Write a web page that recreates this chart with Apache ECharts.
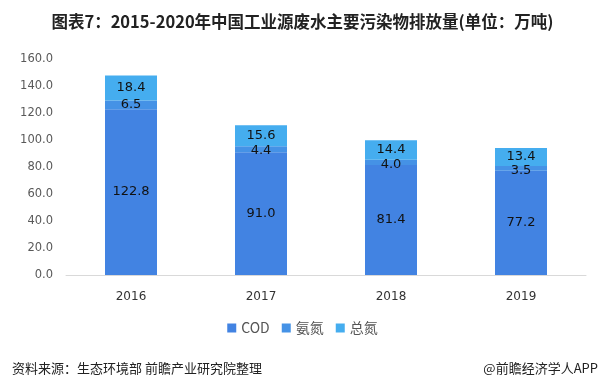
<!DOCTYPE html>
<html><head><meta charset="utf-8">
<script src="https://cdn.jsdelivr.net/npm/echarts@6/dist/echarts.min.js"></script>
<style>html,body{margin:0;padding:0;background:#fff}#c{width:605px;height:388px}</style>
</head><body><div id="c"></div>
<script>
const categories = ['2016','2017','2018','2019'];
const cod = [122.8, 91.0, 81.4, 77.2];
const nh3n = [6.5, 4.4, 4.0, 3.5];
const tn = [18.4, 15.6, 14.4, 13.4];
const yTicks = [0,20,40,60,80,100,120,140,160];

const chart = echarts.init(document.getElementById('c'));
const lbl = {show:true, position:'inside', color:'#111', fontSize:13, fontFamily:'DejaVu Sans', formatter:p=>p.value.toFixed(1)};
chart.setOption({
  animation:false,
  title:[{text:'图表7：2015-2020年中国工业源废水主要污染物排放量(单位：万吨)', left:'center', top:8,
    textStyle:{fontSize:16.5, fontWeight:'bold', color:'#222', fontFamily:'Noto Sans CJK SC'}},
    {text:'资料来源：生态环境部 前瞻产业研究院整理', left:7, top:357, textStyle:{fontSize:13, fontWeight:'normal', color:'#222', fontFamily:'Noto Sans CJK SC'}},
    {text:'@前瞻经济学人APP', right:2, top:357, textStyle:{fontSize:13, fontWeight:'normal', color:'#222', fontFamily:'Noto Sans CJK SC'}}],
  legend:{bottom:48, left:'center', itemWidth:9, itemHeight:9, itemGap:12,
    textStyle:{fontSize:14, color:'#555', fontFamily:'Noto Sans CJK SC'}, icon:'rect',
    data:['COD','氨氮','总氮']},
  grid:{left:66, right:19, top:59, bottom:113},
  xAxis:{type:'category', data:categories, axisTick:{show:false},
    axisLine:{lineStyle:{color:'#d9d9d9'}},
    axisLabel:{color:'#333', fontSize:12, margin:16, fontFamily:'DejaVu Sans'}},
  yAxis:{type:'value', min:yTicks[0], max:yTicks[yTicks.length-1], interval:20,
    splitLine:{show:false}, axisLine:{show:false}, axisTick:{show:false},
    axisLabel:{color:'#595959', fontSize:11.5, margin:13, fontFamily:'DejaVu Sans', formatter:v=>v.toFixed(1)}},
  series:[
    {name:'COD', type:'bar', stack:'a', data:cod, barWidth:'40%', itemStyle:{color:'#4283E2'}, label:lbl},
    {name:'氨氮', type:'bar', stack:'a', data:nh3n, itemStyle:{color:'#4592E6'}, label:Object.assign({},lbl,{position:'insideTop', distance:0, offset:[0,-2]})},
    {name:'总氮', type:'bar', stack:'a', data:tn, itemStyle:{color:'#45ADEF'}, label:lbl}
  ]
});
</script></body></html>
